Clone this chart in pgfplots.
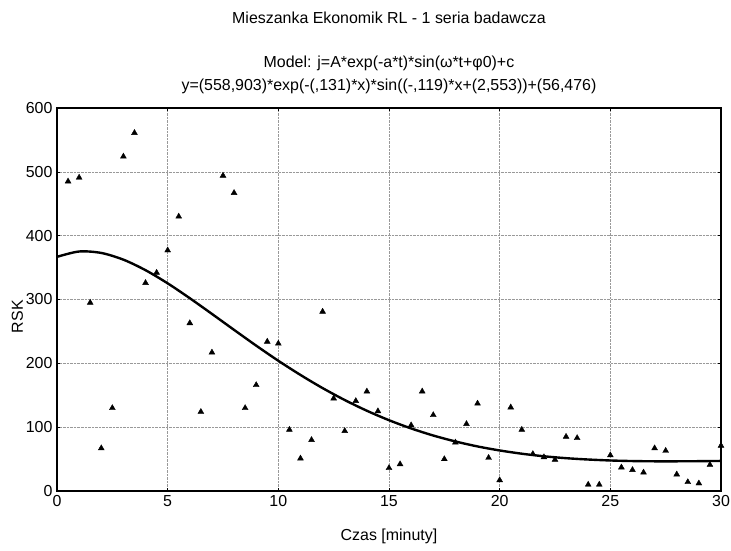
\documentclass[border=0pt]{standalone}
\usepackage{pgfplots}
\pgfplotsset{compat=1.18}
\usepackage{fontspec}
\setmainfont{Liberation Sans}

\begin{document}
\begin{tikzpicture}
\begin{axis}[
    scale only axis,
    width=664bp, height=383bp,
    xmin=0, xmax=30, ymin=0, ymax=600,
    xtick={0,5,...,30}, ytick={0,100,...,600},
    /pgf/number format/assume math mode=true,
    ticklabel style={font=\fontsize{16}{18}\selectfont},
    xticklabel style={yshift=-1bp},
    yticklabel style={xshift=-1bp},
    axis line style={line width=1.6pt},
    tick style={black, line width=0.6pt},
    major tick length=3bp,
    tick pos=both,
    grid=major,
    grid style={densely dotted, gray!80, line width=0.5pt},
    xlabel={Czas [minuty]},
    ylabel={RSK},
    label style={font=\fontsize{16}{18}\selectfont},
    xlabel style={yshift=-15bp},
    ylabel style={yshift=-4bp, at={(ticklabel cs:0.455)}},
    clip=false,
]
\addplot[only marks, mark=triangle*, mark size=3.4pt, black] coordinates {
(0.5,485)(1.0,491)(1.5,295)(2.0,67)(2.5,130)(3.0,524)(3.5,561)(4.0,326)
(4.5,342)(5.0,377)(5.5,430)(6.0,263)(6.5,124)(7.0,217)(7.5,494)(8.0,467)
(8.5,130)(9.0,166)(9.5,234)(10.0,231)(10.5,96)(11.0,51)(11.5,80)(12.0,281)
(12.5,145)(13.0,94)(13.5,141)(14.0,156)(14.5,125)(15.0,36)(15.5,42)(16.0,103)
(16.5,156)(17.0,119)(17.5,50)(18.0,76)(18.5,105)(19.0,137)(19.5,52)(20.0,17)
(20.5,131)(21.0,96)(21.5,58)(22.0,53)(22.5,49)(23.0,85)(23.5,83)(24.0,10)
(24.5,10)(25.0,56)(25.5,37)(26.0,33)(26.5,29)(27.0,67)(27.5,63)(28.0,26)
(28.5,14)(29.0,12)(29.5,41)(30.0,71)
};
% fitted curve, values computed from the model printed in the title
\addplot[black, line width=2.4pt, smooth, mark=none] coordinates {
(0,366.8)(1,375.2)(2,372.9)(3,362.4)(4,345.9)(5,325.3)(6,302.0)(7,277.4)
(8,252.4)(9,227.7)(10,204.0)(11,181.8)(12,161.2)(13,142.5)(14,125.7)
(15,110.9)(16,98.0)(17,86.9)(18,77.6)(19,69.8)(20,63.5)(21,58.4)(22,54.4)
(23,51.4)(24,49.3)(25,47.8)(26,46.9)(27,46.5)(28,46.5)(29,46.7)(30,47.1)
};
\node[anchor=base, font=\fontsize{16}{18}\selectfont] at ([yshift=84bp]rel axis cs:0.5,1) {Mieszanka Ekonomik RL - 1 seria badawcza};
\node[anchor=base, font=\fontsize{16}{18}\selectfont] at ([yshift=40bp]rel axis cs:0.5,1) {Model: j=A*exp(-a*t)*sin(ω*t+φ0)+c};
\node[anchor=base, font=\fontsize{16}{18}\selectfont] at ([yshift=17bp]rel axis cs:0.5,1) {y=(558,903)*exp(-(,131)*x)*sin((-,119)*x+(2,553))+(56,476)};
\end{axis}
\pgfresetboundingbox
\path[use as bounding box] ([xshift=-57bp,yshift=-60bp]current axis.south west) rectangle ([xshift=10bp,yshift=108bp]current axis.north east);
\end{tikzpicture}
\end{document}
